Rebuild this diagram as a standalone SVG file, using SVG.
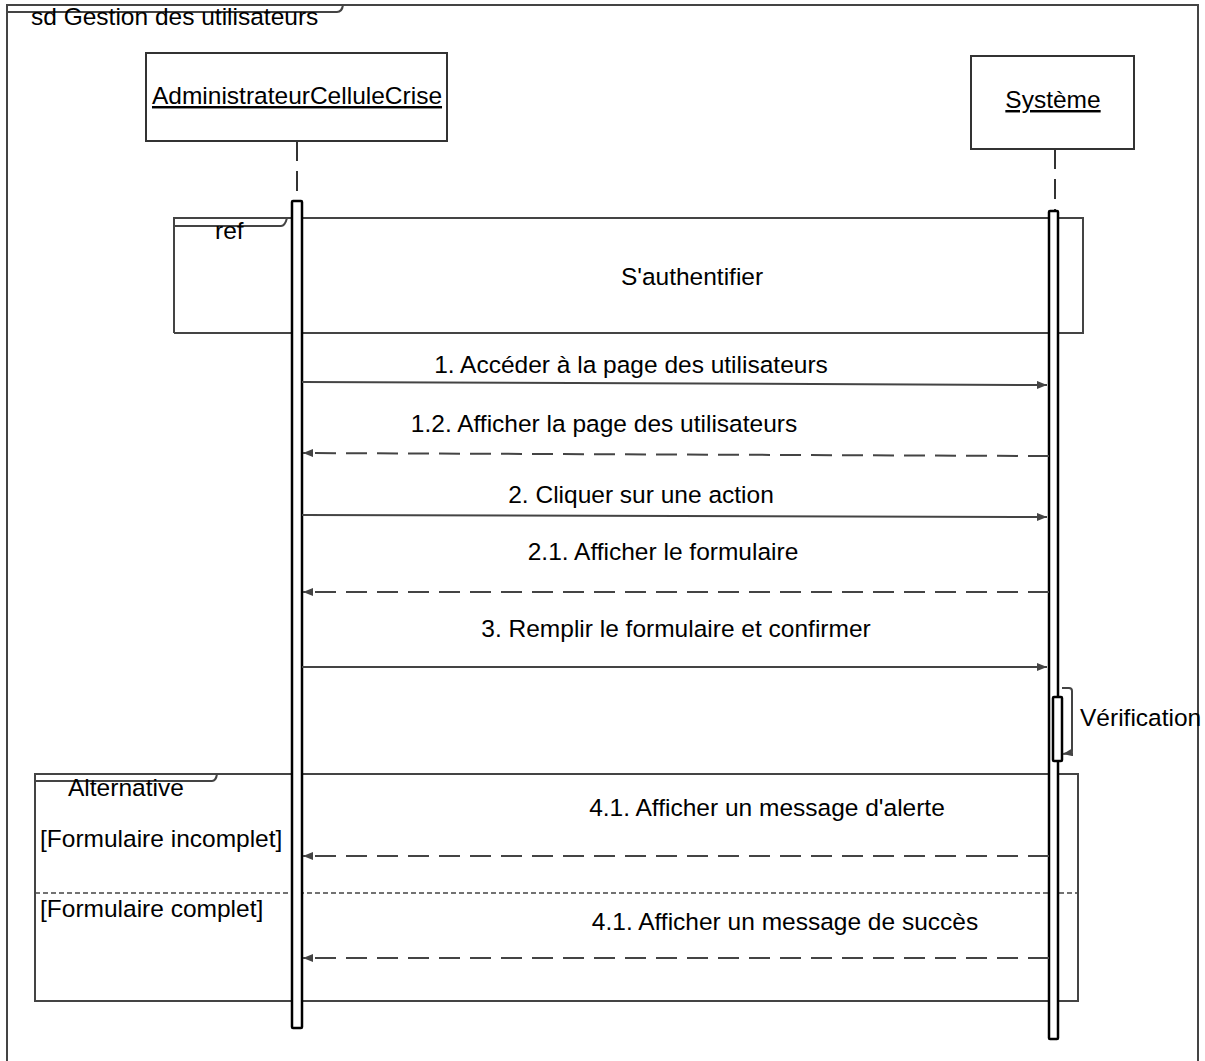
<svg xmlns="http://www.w3.org/2000/svg" width="1205" height="1061" viewBox="0 0 1205 1061">
  <style>
    text { font-family: "Liberation Sans", Arial, sans-serif; font-size: 24.5px; fill: #000; }
    .frame { fill: none; stroke: #444; stroke-width: 2; }
    .box { fill: #fff; stroke: #333; stroke-width: 2; }
    .life { stroke: #333; stroke-width: 2; stroke-dasharray: 20 10; fill: none; }
    .act { fill: #fff; stroke: #000; stroke-width: 2.5; }
    .msg { stroke: #444; stroke-width: 2; fill: none; marker-end: url(#arrow); }
    .ret { stroke: #444; stroke-width: 2; fill: none; stroke-dasharray: 21 10; marker-end: url(#arrow); }
    .sep { stroke: #444; stroke-width: 1.5; stroke-dasharray: 5 3; fill: none; }
  </style>
  <defs>
    <marker id="arrow" viewBox="0 0 10 8" refX="10" refY="4" markerWidth="10" markerHeight="8" markerUnits="userSpaceOnUse" orient="auto">
      <path d="M0,0 L10,4 L0,8 Z" fill="#444"/>
    </marker>
  </defs>
  <rect width="1205" height="1061" fill="#fff"/>

  <!-- sd frame -->
  <g id="frame-sd">
    <path class="frame" d="M7,1070 L7,5 L1198,5 L1198,1070"/>
    <path class="frame" d="M7,12 L337,12 Q342,12 343,5"/>
    <text x="31" y="25">sd Gestion des utilisateurs</text>
  </g>

  <!-- lifelines -->
  <g id="lifeline-admin">
    <rect class="box" x="146" y="53" width="301" height="88"/>
    <text x="297" y="104" text-anchor="middle" text-decoration="underline">AdministrateurCelluleCrise</text>
    <line class="life" x1="297" y1="141" x2="297" y2="201"/>
  </g>
  <g id="lifeline-systeme">
    <rect class="box" x="971" y="56" width="163" height="93"/>
    <text x="1053" y="108" text-anchor="middle" text-decoration="underline">Système</text>
    <line class="life" x1="1055" y1="149" x2="1055" y2="211"/>
  </g>

  <!-- ref fragment -->
  <g id="ref-authentifier">
    <path class="frame" d="M174,333 L174,218 L1083,218 L1083,333 L174,333"/>
    <path class="frame" d="M174,226 L281,226 Q285,226 287,218"/>
    <text x="215" y="239">ref</text>
    <text x="692" y="285" text-anchor="middle">S'authentifier</text>
  </g>

  <!-- alt fragment -->
  <g id="alt-fragment">
    <rect class="frame" x="35" y="774" width="1043" height="227"/>
    <path class="frame" d="M35,781 L212,781 Q216,781 217,774"/>
    <text x="68" y="796">Alternative</text>
    <text x="40" y="847">[Formulaire incomplet]</text>
    <line class="sep" x1="35" y1="893" x2="1078" y2="893"/>
    <text x="40" y="917">[Formulaire complet]</text>
  </g>

  <!-- activation bars -->
  <g id="activations">
    <rect class="act" x="292" y="201" width="10" height="827" rx="1"/>
    <rect class="act" x="1049" y="211" width="9" height="828" rx="1"/>
    <rect class="act" x="1053" y="697" width="9" height="64" rx="1"/>
  </g>

  <!-- messages -->
  <g id="connectors">
    <line class="msg" x1="302" y1="382" x2="1047" y2="385"/>
    <line class="ret" x1="1049" y1="456" x2="303" y2="453"/>
    <line class="msg" x1="302" y1="515" x2="1047" y2="517"/>
    <line class="ret" x1="1049" y1="592" x2="303" y2="592"/>
    <line class="msg" x1="302" y1="667" x2="1047" y2="667"/>
    <path class="msg" d="M1062,688 L1069,688 Q1072,688 1072,691 L1072,750 Q1072,753 1069,753 L1063,754"/>
    <line class="ret" x1="1049" y1="856" x2="303" y2="856"/>
    <line class="ret" x1="1049" y1="958" x2="303" y2="958"/>
  </g>

  <!-- message labels -->
  <g id="labels">
    <text x="631" y="373" text-anchor="middle">1. Accéder à la page des utilisateurs</text>
    <text x="604" y="432" text-anchor="middle">1.2. Afficher la page des utilisateurs</text>
    <text x="641" y="503" text-anchor="middle">2. Cliquer sur une action</text>
    <text x="663" y="560" text-anchor="middle">2.1. Afficher le formulaire</text>
    <text x="676" y="637" text-anchor="middle">3. Remplir le formulaire et confirmer</text>
    <text x="1080" y="726">Vérification</text>
    <text x="767" y="816" text-anchor="middle">4.1. Afficher un message d'alerte</text>
    <text x="785" y="930" text-anchor="middle">4.1. Afficher un message de succès</text>
  </g>
</svg>
